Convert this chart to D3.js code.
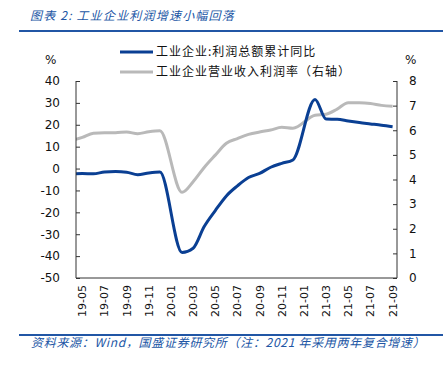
<!DOCTYPE html>
<html lang="zh">
<head>
<meta charset="utf-8">
<title>工业企业利润增速</title>
<script src="https://d3js.org/d3.v7.min.js"></script>
<style>
  body { margin: 0; background: #fff; }
  svg { display: block; }
</style>
</head>
<body>
<div id="chart"></div>
<script>
// Months (19-04 is only partly visible at the left edge; January has no data)
const months = ["19-04","19-05","19-06","19-07","19-08","19-09","19-10","19-11","19-12",
  "20-01","20-02","20-03","20-04","20-05","20-06","20-07","20-08","20-09","20-10","20-11","20-12",
  "21-01","21-02","21-03","21-04","21-05","21-06","21-07","21-08","21-09"];

// 工业企业:利润总额累计同比 (%)
const profitYoY = [-2.6, -2.3, -2.4, -1.6, -1.4, -1.7, -2.8, -2.0, -1.6,
  null, -38.3, -36.4, -26.5, -19.2, -12.5, -7.9, -4.1, -2.2, 0.6, 2.4, 3.9,
  null, 31.6, 22.6, 22.5, 21.7, 21.0, 20.4, 19.8, 19.1];

// 工业企业营业收入利润率 (%, right axis)
const marginRate = [5.58, 5.71, 5.88, 5.90, 5.90, 5.93, 5.86, 5.94, 5.98,
  null, 3.48, 3.91, 4.49, 4.99, 5.47, 5.66, 5.83, 5.93, 6.01, 6.12, 6.08,
  null, 6.61, 6.65, 6.86, 7.12, 7.12, 7.09, 7.01, 6.97];

const xLabels = ["19-05","19-07","19-09","19-11","20-01","20-03","20-05","20-07",
  "20-09","20-11","21-01","21-03","21-05","21-07","21-09"];
const leftTicks = [40, 30, 20, 10, 0, -10, -20, -30, -40, -50];
const rightTicks = [0, 1, 2, 3, 4, 5, 6, 7, 8];

const seriesNames = ["工业企业:利润总额累计同比", "工业企业营业收入利润率（右轴）"];
const colors = ["#0a3f93", "#b9b9b9"];

const W = 443, H = 368;
const plot = { left: 76, right: 397, top: 81, bottom: 278 };
const blue = "#2156a5";
const cjk = "'Noto Sans CJK SC', 'Noto Sans', sans-serif";
const num = "'DejaVu Sans', sans-serif";

const svg = d3.select("#chart").append("svg")
  .attr("width", W).attr("height", H);

// Scales: month index, 19-05 = 0
const idx = m => months.indexOf(m) - 1;
const x = d3.scaleLinear().domain([0, 28]).range([82.3, 392.6]);
const yL = d3.scaleLinear().domain([-50, 40]).range([plot.bottom, plot.top]);
const yR = d3.scaleLinear().domain([0, 8]).range([plot.bottom, plot.top]);

// Title
svg.append("text")
  .attr("x", 30).attr("y", 20)
  .style("font-family", cjk).style("font-style", "italic")
  .style("font-size", "12px").style("fill", blue)
  .style("letter-spacing", "1.2px")
  .text("图表 2:  工业企业利润增速小幅回落");

svg.append("line")
  .attr("x1", 19).attr("x2", W).attr("y1", 31).attr("y2", 31)
  .attr("stroke", blue).attr("stroke-width", 2);

// Clip for lines
svg.append("clipPath").attr("id", "plotclip")
  .append("rect")
  .attr("x", plot.left).attr("y", plot.top - 10)
  .attr("width", plot.right - plot.left).attr("height", plot.bottom - plot.top + 10);

const line = (yScale) => d3.line()
  .x(d => x(d.i))
  .y(d => yScale(d.v))
  .curve(d3.curveMonotoneX);

const toPoints = arr => months.map((m, k) => ({ i: idx(m), v: arr[k] })).filter(d => d.v !== null);

const g = svg.append("g").attr("clip-path", "url(#plotclip)");

g.append("path")
  .datum(toPoints(marginRate))
  .attr("fill", "none")
  .attr("stroke", colors[1])
  .attr("stroke-width", 3)
  .attr("d", line(yR));

g.append("path")
  .datum(toPoints(profitYoY))
  .attr("fill", "none")
  .attr("stroke", colors[0])
  .attr("stroke-width", 3)
  .attr("d", line(yL));

// Axes
const axisColor = "#333";

const leftAxis = svg.append("g")
  .attr("transform", `translate(${plot.left},0)`)
  .call(d3.axisRight(yL).tickValues(leftTicks).tickSize(4).tickFormat(""));
leftAxis.select(".domain").attr("stroke", axisColor).attr("d", `M0,${plot.top}V${plot.bottom}`);
leftAxis.selectAll(".tick line").attr("stroke", axisColor);

const rightAxis = svg.append("g")
  .attr("transform", `translate(${plot.right},0)`)
  .call(d3.axisLeft(yR).tickValues(rightTicks).tickSize(4).tickFormat(""));
rightAxis.select(".domain").attr("stroke", axisColor).attr("d", `M0,${plot.top}V${plot.bottom}`);
rightAxis.selectAll(".tick line").attr("stroke", axisColor);

svg.append("line")
  .attr("x1", plot.left).attr("x2", plot.right)
  .attr("y1", plot.bottom).attr("y2", plot.bottom)
  .attr("stroke", axisColor);

// Tick labels
svg.append("g").selectAll("text")
  .data(leftTicks).enter().append("text")
  .attr("x", 60).attr("y", d => yL(d)).attr("dy", "0.36em")
  .attr("text-anchor", "end")
  .style("font-family", num).style("font-size", "12px").style("fill", "#111")
  .text(d => d);

svg.append("g").selectAll("text")
  .data(rightTicks).enter().append("text")
  .attr("x", 409).attr("y", d => yR(d)).attr("dy", "0.36em")
  .style("font-family", num).style("font-size", "12px").style("fill", "#111")
  .text(d => d);

svg.append("g").selectAll("text")
  .data(xLabels).enter().append("text")
  .attr("transform", d => `translate(${x(idx(d))},${plot.bottom + 7}) rotate(-90)`)
  .attr("dy", "0.36em")
  .attr("text-anchor", "end")
  .style("font-family", num).style("font-size", "11px").style("fill", "#111")
  .text(d => d);

// Units
svg.append("text").attr("x", 45).attr("y", 64)
  .style("font-family", num).style("font-size", "12px").style("fill", "#111").text("%");
svg.append("text").attr("x", 405).attr("y", 64)
  .style("font-family", num).style("font-size", "12px").style("fill", "#111").text("%");

// Legend
const legend = svg.append("g");
seriesNames.forEach((name, k) => {
  const ly = 52 + k * 20;
  legend.append("line")
    .attr("x1", 120).attr("x2", 153).attr("y1", ly).attr("y2", ly)
    .attr("stroke", colors[k]).attr("stroke-width", 3);
  legend.append("text")
    .attr("x", 156).attr("y", ly).attr("dy", "0.36em")
    .style("font-family", cjk).style("font-size", "12px").style("fill", "#111")
    .style("letter-spacing", "1px")
    .text(name);
});

// Source
svg.append("line")
  .attr("x1", 19).attr("x2", W).attr("y1", 335).attr("y2", 335)
  .attr("stroke", blue).attr("stroke-width", 2);

svg.append("text")
  .attr("x", 31).attr("y", 347)
  .style("font-family", cjk).style("font-style", "italic")
  .style("font-size", "12px").style("fill", blue)
  .style("letter-spacing", "0.7px")
  .text("资料来源：Wind，国盛证券研究所（注：2021 年采用两年复合增速）");
</script>
</body>
</html>
